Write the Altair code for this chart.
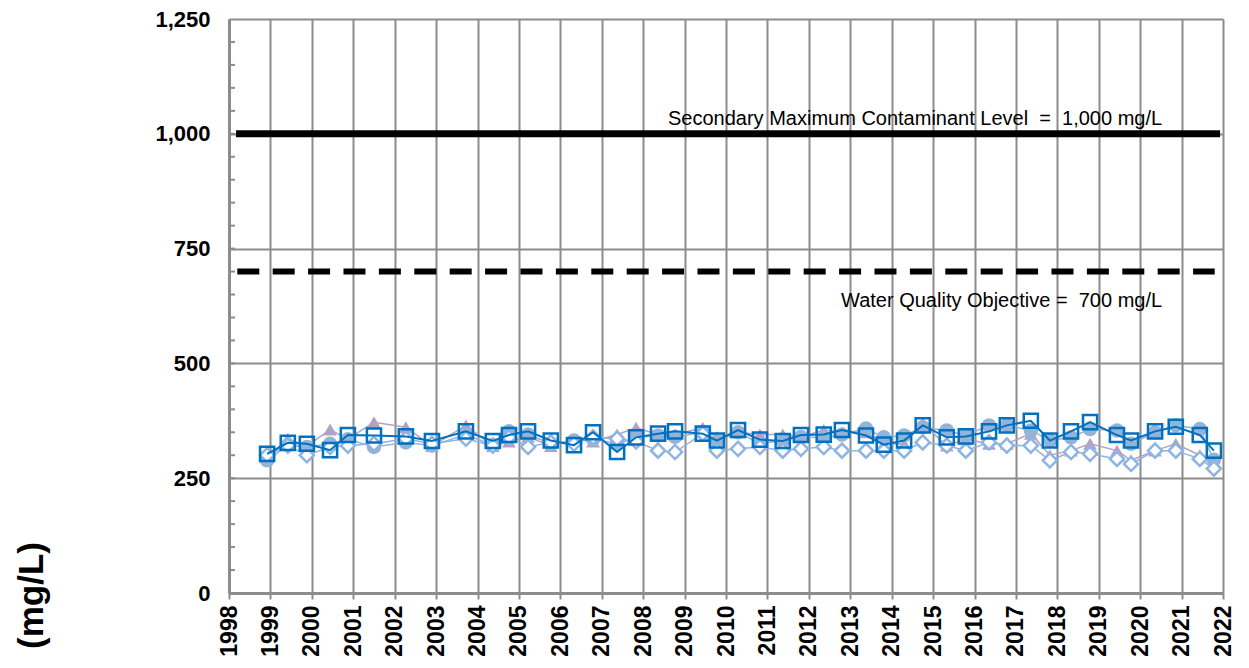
import altair as alt
import pandas as pd

# ---- data ----
years = [1998.92, 1999.42, 1999.88, 2000.44, 2000.87, 2001.50, 2002.27, 2002.90,
         2003.72, 2004.37, 2004.76, 2005.22, 2005.77, 2006.33, 2006.79, 2007.37,
         2007.83, 2008.36, 2008.77, 2009.44, 2009.78, 2010.29, 2010.82, 2011.37,
         2011.81, 2012.36, 2012.80, 2013.38, 2013.81, 2014.30, 2014.75, 2015.33,
         2015.79, 2016.35, 2016.78, 2017.36, 2017.82, 2018.33, 2018.79, 2019.44,
         2019.78, 2020.36, 2020.86, 2021.44, 2021.78]

squares = [303, 327, 325, 311, 344, 343, 341, 331, 352, 331, 344, 352, 332, 322, 350,
           307, 339, 347, 352, 347, 332, 355, 334, 331, 344, 345, 355, 343, 323, 332,
           365, 339, 341, 352, 365, 375, 332, 352, 372, 344, 332, 352, 362, 344, 310]

circles = [289, 322, 318, 325, 335, 318, 328, 321, 345, 322, 352, 345, 325, 332, 335,
           325, 338, 343, 340, 350, 330, 350, 325, 332, 340, 338, 345, 358, 339, 343,
           361, 354, 343, 365, 365, 354, 332, 339, 357, 354, 325, 350, 365, 357, 290]

triangles = [295, 336, 320, 356, 335, 372, 361, 320, 365, 320, 330, 340, 320, 335, 330,
             345, 360, 345, 345, 360, 340, 350, 345, 345, 340, 355, 350, 350, 325, 325,
             369, 321, 335, 325, 325, 347, 300, 310, 325, 310, 289, 310, 325, 300, 285]

diamonds = [300, 321, 300, 318, 321, 325, 336, 325, 336, 321, 339, 318, 328, 325, 339,
            336, 330, 310, 307, 347, 310, 314, 318, 310, 314, 318, 310, 310, 310, 310,
            328, 321, 310, 328, 321, 321, 289, 307, 303, 292, 281, 310, 310, 292, 271]

NB = "\u00a0"
limit_values = [1000, 700]
limit_start = [1998.17, 1998.2]
limit_end = [2021.93, 2021.8]
limit_labels = ["Secondary Maximum Contaminant Level" + NB + NB + "=" + NB + NB + "1,000 mg/L",
                "Water Quality Objective =" + NB + NB + "700 mg/L"]
label_x = [2020.53, 2020.53]
label_y = [1033, 636]

year_ticks = list(range(1998, 2023))
y_ticks = [0, 250, 500, 750, 1000, 1250]
minor_ticks = list(range(50, 1250, 50))

FONT = "Liberation Sans"
GRID = "#8c8c8c"

df = pd.DataFrame({"year": years, "squares": squares, "circles": circles,
                   "triangles": triangles, "diamonds": diamonds})
lim_df = pd.DataFrame({"v": limit_values, "start": limit_start, "end": limit_end,
                       "label": limit_labels, "lx": label_x, "ly": label_y,
                       "kind": ["smcl", "wqo"]})
minor_df = pd.DataFrame({"v": minor_ticks})

x_scale = alt.Scale(domain=[1998, 2022], nice=False, zero=False)
y_scale = alt.Scale(domain=[0, 1250], nice=False, zero=True)

x_axis = alt.Axis(values=year_ticks, format="d", labelAngle=270, labelFontSize=23,
                  labelFontWeight="bold", labelColor="black", labelFont=FONT,
                  grid=True, gridColor=GRID, gridWidth=2,
                  domainColor=GRID, domainWidth=3, tickColor=GRID, tickWidth=2,
                  tickSize=6, labelPadding=6, title=None, labelOverlap=False,
                  labelFlush=False)
y_axis = alt.Axis(values=y_ticks, format=",d", labelFontSize=22, labelFontWeight="bold",
                  labelColor="black", labelFont=FONT, grid=True, gridColor=GRID,
                  gridWidth=2, domainColor=GRID, domainWidth=3, ticks=False,
                  labelPadding=19, title="(mg/L)", titleFontSize=35,
                  titleFontWeight="bold", titleFont=FONT, titleColor="black",
                  titleX=-198, titleY=576, titleAngle=270, titleAlign="center",
                  titleBaseline="middle", labelFlush=False)

X = alt.X("year:Q", scale=x_scale, axis=x_axis)


def series(col, color, shape, filled, size, stroke_w, line_w, fill=None):
    line = alt.Chart(df).mark_line(color=color, strokeWidth=line_w).encode(
        x=X, y=alt.Y(f"{col}:Q", scale=y_scale, axis=y_axis))
    kw = dict(shape=shape, size=size, strokeWidth=stroke_w, opacity=1)
    if filled:
        kw.update(filled=True, color=color)
    elif fill is not None:
        kw.update(filled=True, fill=fill, stroke=color)
    else:
        kw.update(filled=False, color=color)
    pts = alt.Chart(df).mark_point(**kw).encode(
        x=X, y=alt.Y(f"{col}:Q", scale=y_scale, axis=y_axis))
    return [line, pts]


minor = alt.Chart(minor_df).mark_rule(color=GRID, strokeWidth=2).encode(
    y=alt.Y("v:Q", scale=y_scale, axis=y_axis), x=alt.value(0), x2=alt.value(6))

smcl = alt.Chart(lim_df).transform_filter(alt.datum.kind == "smcl").mark_rule(
    color="black", strokeWidth=7).encode(
    y=alt.Y("v:Q", scale=y_scale, axis=y_axis), x=alt.X("start:Q", scale=x_scale, axis=x_axis),
    x2="end:Q")
wqo = alt.Chart(lim_df).transform_filter(alt.datum.kind == "wqo").mark_rule(
    color="black", strokeWidth=6, strokeDash=[22, 13.4]).encode(
    y=alt.Y("v:Q", scale=y_scale, axis=y_axis), x=alt.X("start:Q", scale=x_scale, axis=x_axis),
    x2="end:Q")
labels = alt.Chart(lim_df).mark_text(align="right", baseline="middle", fontSize=20,
                                     font=FONT, color="black").encode(
    x=alt.X("lx:Q", scale=x_scale, axis=x_axis),
    y=alt.Y("ly:Q", scale=y_scale, axis=y_axis), text="label:N")

layers = [minor, smcl, wqo, labels]
layers += series("triangles", "#B3A2C7", "triangle-up", True, 190, 1, 1.5)
layers += series("circles", "#95B3D7", "circle", True, 210, 1, 1.5)
layers += series("diamonds", "#8DB4E2", "diamond", False, 200, 2.5, 1.5, fill="white")
layers += series("squares", "#0070C0", "square", False, 200, 2.5, 2)

chart = alt.layer(*layers).properties(
    width=994, height=574,
    autosize=alt.AutoSizeParams(type="none"),
    padding={"left": 221, "top": 11, "right": 16, "bottom": 65},
).configure_view(stroke="black", strokeWidth=3).configure(background="white")

chart.save("out.html", embed_options={"renderer": "svg", "actions": False})
